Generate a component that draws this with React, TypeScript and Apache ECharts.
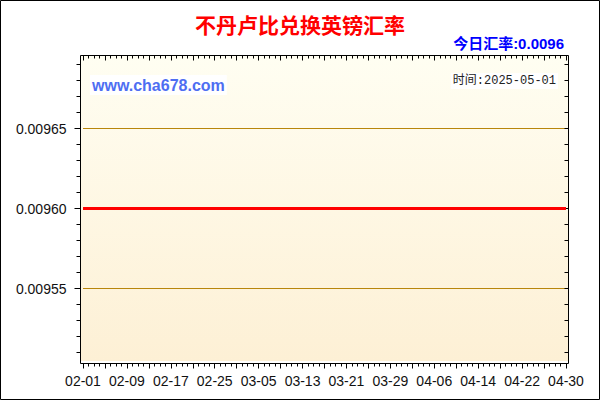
import React, { useEffect, useRef } from 'react';
import * as echarts from 'echarts';

// day labels, 2025-02-01 .. 2025-04-30
const dates = [
  '02-01', '02-02', '02-03', '02-04', '02-05', '02-06', '02-07', '02-08', '02-09', '02-10',
  '02-11', '02-12', '02-13', '02-14', '02-15', '02-16', '02-17', '02-18', '02-19', '02-20',
  '02-21', '02-22', '02-23', '02-24', '02-25', '02-26', '02-27', '02-28',
  '03-01', '03-02', '03-03', '03-04', '03-05', '03-06', '03-07', '03-08', '03-09', '03-10',
  '03-11', '03-12', '03-13', '03-14', '03-15', '03-16', '03-17', '03-18', '03-19', '03-20',
  '03-21', '03-22', '03-23', '03-24', '03-25', '03-26', '03-27', '03-28', '03-29', '03-30',
  '03-31',
  '04-01', '04-02', '04-03', '04-04', '04-05', '04-06', '04-07', '04-08', '04-09', '04-10',
  '04-11', '04-12', '04-13', '04-14', '04-15', '04-16', '04-17', '04-18', '04-19', '04-20',
  '04-21', '04-22', '04-23', '04-24', '04-25', '04-26', '04-27', '04-28', '04-29', '04-30',
];

// BTN -> GBP, flat the whole period
const rates = [
  // Feb (28)
  0.0096, 0.0096, 0.0096, 0.0096, 0.0096, 0.0096, 0.0096, 0.0096, 0.0096, 0.0096,
  0.0096, 0.0096, 0.0096, 0.0096, 0.0096, 0.0096, 0.0096, 0.0096, 0.0096, 0.0096,
  0.0096, 0.0096, 0.0096, 0.0096, 0.0096, 0.0096, 0.0096, 0.0096,
  // Mar (31)
  0.0096, 0.0096, 0.0096, 0.0096, 0.0096, 0.0096, 0.0096, 0.0096, 0.0096, 0.0096,
  0.0096, 0.0096, 0.0096, 0.0096, 0.0096, 0.0096, 0.0096, 0.0096, 0.0096, 0.0096,
  0.0096, 0.0096, 0.0096, 0.0096, 0.0096, 0.0096, 0.0096, 0.0096, 0.0096, 0.0096,
  0.0096,
  // Apr (30)
  0.0096, 0.0096, 0.0096, 0.0096, 0.0096, 0.0096, 0.0096, 0.0096, 0.0096, 0.0096,
  0.0096, 0.0096, 0.0096, 0.0096, 0.0096, 0.0096, 0.0096, 0.0096, 0.0096, 0.0096,
  0.0096, 0.0096, 0.0096, 0.0096, 0.0096, 0.0096, 0.0096, 0.0096, 0.0096, 0.0096,
];

const majorRateTicks = [0.00955, 0.0096, 0.00965];
const minorRateTicks = [
  0.00951, 0.00952, 0.00953, 0.00954, 0.00955, 0.00956, 0.00957, 0.00958, 0.00959, 0.0096,
  0.00961, 0.00962, 0.00963, 0.00964, 0.00965, 0.00966, 0.00967, 0.00968, 0.00969,
];
const gridRates = [0.00955, 0.00965];

const titleText = '不丹卢比兑换英镑汇率';
const todayRate = '0.0096';
const dateText = '2025-05-01';

const Y_MIN = 0.009503125;
const Y_MAX = 0.009695625;

const SANS = '"Liberation Sans", Arial, "Noto Sans CJK SC", sans-serif';

function xAxisBase(extra: any) {
  return {
    type: 'category',
    data: dates,
    boundaryGap: false,
    axisLine: { show: false },
    splitLine: { show: false },
    axisLabel: { show: false },
    ...extra,
  };
}

function yAxisBase(extra: any) {
  return {
    type: 'value',
    min: Y_MIN,
    max: Y_MAX,
    axisLine: { show: false },
    splitLine: { show: false },
    axisLabel: { show: false },
    ...extra,
  };
}

const tickLine = { color: '#000', width: 1 };

export default function App() {
  const ref = useRef<HTMLDivElement>(null);

  useEffect(() => {
    if (!ref.current) return;
    const chart = echarts.init(ref.current, undefined, { renderer: 'svg' });

    chart.setOption({
      animation: false,
      backgroundColor: '#fff',
      textStyle: { fontFamily: SANS },
      grid: { left: 83, right: 34, top: 55.5, bottom: 36.5 },
      xAxis: [
        xAxisBase({
          position: 'bottom',
          axisTick: { show: true, interval: 3, length: 5, lineStyle: tickLine },
          axisLabel: {
            show: true,
            interval: 7,
            margin: 10,
            fontSize: 14,
            color: '#111',
            fontFamily: SANS,
          },
        }),
        xAxisBase({
          position: 'bottom',
          axisTick: { show: true, interval: 0, length: 3, lineStyle: tickLine },
        }),
        xAxisBase({
          position: 'top',
          axisTick: { show: true, inside: true, interval: 3, length: 5, lineStyle: tickLine },
        }),
        xAxisBase({
          position: 'top',
          axisTick: { show: true, inside: true, interval: 0, length: 3, lineStyle: tickLine },
        }),
      ],
      yAxis: [
        yAxisBase({
          position: 'left',
          offset: 2.5,
          axisTick: { show: true, customValues: majorRateTicks, length: 6, lineStyle: tickLine },
          axisLabel: {
            show: true,
            customValues: majorRateTicks,
            formatter: (v: number) => v.toFixed(5),
            margin: 14,
            fontSize: 14,
            color: '#111',
            fontFamily: SANS,
          },
        }),
        yAxisBase({
          position: 'left',
          offset: 2.5,
          axisTick: { show: true, customValues: minorRateTicks, length: 4, lineStyle: tickLine },
        }),
        yAxisBase({
          position: 'right',
          offset: 2.5,
          axisTick: { show: true, inside: true, customValues: minorRateTicks, length: 4, lineStyle: tickLine },
        }),
        // gold grid lines
        yAxisBase({
          position: 'right',
          axisTick: { show: false, customValues: gridRates },
          splitLine: { show: true, lineStyle: { color: '#b8860b', width: 1, type: 'solid' } },
        }),
      ],
      series: [
        {
          type: 'line',
          xAxisIndex: 0,
          yAxisIndex: 0,
          data: rates,
          symbol: 'none',
          showSymbol: false,
          z: 5,
          lineStyle: { color: '#ff0000', width: 3 },
          itemStyle: { color: '#ff0000' },
        },
      ],
      graphic: [
        {
          type: 'rect',
          z: -1,
          silent: true,
          shape: { x: 81, y: 56, width: 487, height: 305 },
          style: {
            fill: new echarts.graphic.LinearGradient(0, 0, 0, 1, [
              { offset: 0, color: '#fffef2' },
              { offset: 1, color: '#fdf0d5' },
            ]),
          },
        },
        {
          type: 'rect',
          z: 100,
          silent: true,
          shape: { x: 80.5, y: 55.5, width: 488, height: 308 },
          style: { fill: 'none', stroke: '#000', lineWidth: 1 },
        },
        {
          type: 'rect',
          z: 100,
          silent: true,
          shape: { x: 0.5, y: 0.5, width: 599, height: 399 },
          style: { fill: 'none', stroke: '#000', lineWidth: 1 },
        },
        {
          type: 'text',
          x: 300,
          y: 24,
          style: {
            text: titleText,
            fill: '#ff0000',
            fontSize: 21,
            fontWeight: 'bold',
            fontFamily: '"Noto Sans CJK SC", sans-serif',
            align: 'center',
            verticalAlign: 'middle',
          },
        },
        {
          type: 'text',
          x: 564,
          y: 43,
          style: {
            text: '今日汇率:' + todayRate,
            fill: '#0000ff',
            fontSize: 15,
            fontWeight: 'bold',
            fontFamily: SANS,
            align: 'right',
            verticalAlign: 'middle',
          },
        },
        {
          type: 'text',
          x: 90,
          y: 85,
          z: 10,
          style: {
            text: 'www.cha678.com',
            fill: '#4e6ef2',
            fontSize: 16,
            fontWeight: 'bold',
            fontFamily: SANS,
            align: 'left',
            verticalAlign: 'middle',
            backgroundColor: '#ffffff',
            padding: [2, 2, 2, 2],
          },
        },
        {
          type: 'text',
          x: 558,
          y: 81,
          z: 10,
          style: {
            text: '时间:' + dateText,
            fill: '#222',
            fontSize: 12,
            fontFamily: '"Liberation Mono", "Noto Sans CJK SC", monospace',
            align: 'right',
            verticalAlign: 'middle',
            backgroundColor: '#ffffff',
            padding: [2, 2, 2, 2],
          },
        },
      ],
    });

    return () => chart.dispose();
  }, []);

  return (
    <div
      ref={ref}
      style={{ position: 'fixed', left: 0, top: 0, width: 600, height: 400, background: '#fff' }}
    />
  );
}
